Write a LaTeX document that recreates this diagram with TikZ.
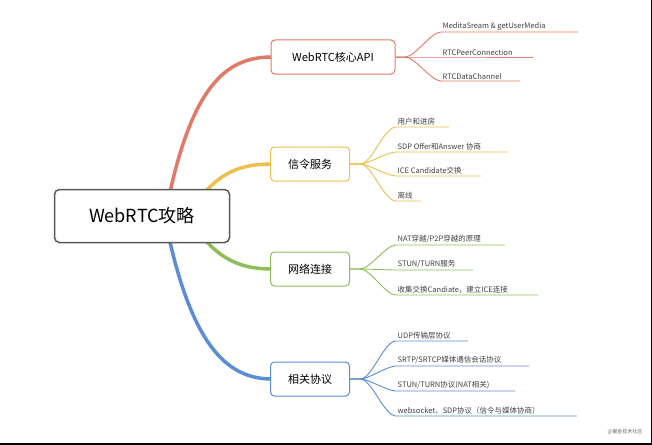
\documentclass[tikz,border=0pt]{standalone}
\usepackage{fontspec}
\setmainfont{Noto Sans CJK SC}
\definecolor{cred}{HTML}{E07A66}
\definecolor{cyel}{HTML}{EDC04E}
\definecolor{cgrn}{HTML}{8DBE5A}
\definecolor{cblu}{HTML}{5B8DD6}
\tikzset{
  topic/.style={draw, rounded corners=4pt, line width=1pt, fill=white, font=\fontsize{11}{12}\selectfont, inner sep=0pt, minimum height=34pt},
  leaf/.style={anchor=south west, font=\fontsize{7.5}{8}\selectfont, text=black!75, inner sep=1.5pt},
  twig/.style={line width=.9pt},
  limb/.style={line width=3.5pt, line cap=round}
}
\begin{document}
\begin{tikzpicture}[x=1pt,y=-1pt]
\useasboundingbox (0,0) rectangle (652,444);
\fill[white] (0,0) rectangle (652,444);
\draw[black, line width=1.5pt] (652,0) -- (652,444) -- (0,444);
% main branches
\draw[limb, cred] (170,192) .. controls (195,80) and (230,57) .. (272,57);
\draw[limb, cyel] (205,192) .. controls (225,170) and (245,164) .. (272,164);
\draw[limb, cgrn] (205,240) .. controls (225,262) and (245,269) .. (272,269);
\draw[limb, cblu] (170,242) .. controls (195,350) and (230,379) .. (272,379);
\node[draw=black!65, rounded corners=5pt, line width=1.5pt, fill=white, minimum width=175pt, minimum height=53pt, font=\fontsize{18}{20}\selectfont] (root) at (142,216) {WebRTC攻略};
\node[topic, draw=cred, minimum width=124pt] (api) at (333,57) {WebRTC核心API};
\node[topic, draw=cyel, minimum width=79pt] (sig) at (310,164) {信令服务};
\node[topic, draw=cgrn, minimum width=79pt] (net) at (310,269) {网络连接};
\node[topic, draw=cblu, minimum width=79pt] (pro) at (310,379) {相关协议};
% leaves
\foreach \y/\e/\t [count=\i] in {32/578/{MeditaSream \& getUserMedia}, 57/533/{RTCPeerConnection}, 81/520/{RTCDataChannel}}{
  \coordinate (a\i) at (\e,\y);
  \draw[twig, cred] (api.east) -- (405,57) to[out=0, in=180, looseness=.6] (441,\y) -- (a\i);
  \node[leaf] at (441,\y) {\t};
}
\foreach \y/\e/\t [count=\i] in {127/449/{用户和进房}, 152/508/{SDP Offer和Answer 协商}, 176/481/{ICE Candidate交换}, 201/421/{离线}}{
  \coordinate (b\i) at (\e,\y);
  \draw[twig, cyel] (sig.east) -- (360,164) to[out=0, in=180, looseness=.6] (396,\y) -- (b\i);
  \node[leaf] at (396,\y) {\t};
}
\foreach \y/\e/\t [count=\i] in {245/505/{NAT穿越/P2P穿越的原理}, 270/473/{STUN/TURN服务}, 295/538/{收集交换Candiate，建立ICE连接}}{
  \coordinate (c\i) at (\e,\y);
  \draw[twig, cgrn] (net.east) -- (360,269) to[out=0, in=180, looseness=.6] (396,\y) -- (c\i);
  \node[leaf] at (396,\y) {\t};
}
\foreach \y/\e/\t [count=\i] in {341/468/{UDP传输层协议}, 366/529/{SRTP/SRTCP媒体通信会话协议}, 391/515/{STUN/TURN协议(NAT相关)}, 416/577/{websocket、SDP协议（信令与媒体协商）}}{
  \coordinate (d\i) at (\e,\y);
  \draw[twig, cblu] (pro.east) -- (360,379) to[out=0, in=180, looseness=.6] (396,\y) -- (d\i);
  \node[leaf] at (396,\y) {\t};
}
\node[font=\fontsize{5}{6}\selectfont, text=black!60] (mark) at (625,432) {@掘金技术社区};
\end{tikzpicture}
\end{document}
